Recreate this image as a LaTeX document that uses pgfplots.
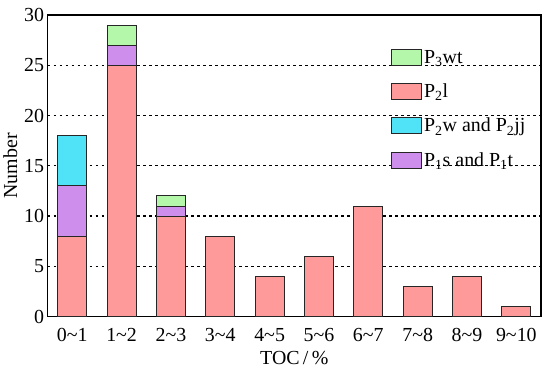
\documentclass[border=0pt]{standalone}
\usepackage{fontspec}
\setmainfont{Liberation Serif}
\usepackage{pgfplots}
\pgfplotsset{compat=1.18}
\definecolor{cgreen}{RGB}{180,246,170}
\definecolor{cpink}{RGB}{255,154,154}
\definecolor{ccyan}{RGB}{80,226,246}
\definecolor{cpurple}{RGB}{205,142,236}
\begin{document}
\begin{tikzpicture}
\begin{axis}[
  name=ax,
  scale only axis, width=494bp, height=302bp,
  ybar stacked, bar width=0.59,
  xmin=-0.5, xmax=9.5, ymin=0, ymax=30,
  xtick={0,...,9},
  xticklabels={0\textasciitilde1,1\textasciitilde2,2\textasciitilde3,3\textasciitilde4,4\textasciitilde5,5\textasciitilde6,6\textasciitilde7,7\textasciitilde8,8\textasciitilde9,9\textasciitilde10},
  ytick={0,5,...,30},
  ymajorgrids, grid style={black, dash pattern=on 2.5bp off 3.5bp, line width=1.2bp},
  major tick length=0pt,
  axis line style={line width=1.4bp},
  /pgf/number format/assume math mode=true,
  tick label style={font=\fontsize{20}{23}\selectfont},
  xticklabel style={yshift=-8bp},
  label style={font=\fontsize{20}{23}\selectfont},
  xlabel={TOC\,/\,\%}, ylabel={Number},
  xlabel style={yshift=-3bp},
  every axis plot/.append style={draw=black!85, line width=1bp},
  legend style={at={(0.696,0.89)}, anchor=north west, draw=none, fill=none,
    inner sep=0pt, font=\fontsize{20}{23}\selectfont, row sep=15bp,
    /tikz/every even column/.append style={column sep=3bp}},
  legend cell align=left,
  area legend,
  legend image code/.code={\draw[#1, line width=1bp] (0bp,-8bp) rectangle (30bp,8bp);},
]
\addplot[fill=cpink, forget plot] coordinates {(0,8) (1,25) (2,10) (3,8) (4,4) (5,6) (6,11) (7,3) (8,4) (9,1)};
\addplot[fill=cpurple, forget plot] coordinates {(0,5) (1,2) (2,1) (3,0) (4,0) (5,0) (6,0) (7,0) (8,0) (9,0)};
\addplot[fill=ccyan, forget plot] coordinates {(0,5) (1,0) (2,0) (3,0) (4,0) (5,0) (6,0) (7,0) (8,0) (9,0)};
\addplot[fill=cgreen, forget plot] coordinates {(0,0) (1,2) (2,1) (3,0) (4,0) (5,0) (6,0) (7,0) (8,0) (9,0)};
\addlegendimage{fill=cgreen, draw=black!85}
\addlegendentry{P\textsubscript{3}wt}
\addlegendimage{fill=cpink, draw=black!85}
\addlegendentry{P\textsubscript{2}l}
\addlegendimage{fill=ccyan, draw=black!85}
\addlegendentry{P\textsubscript{2}w and P\textsubscript{2}jj}
\addlegendimage{fill=cpurple, draw=black!85}
\addlegendentry{P\textsubscript{1}s and P\textsubscript{1}t}
\end{axis}
\path ([xshift=9bp,yshift=15bp]ax.north east);
\path ([xshift=9bp,yshift=-55bp]ax.south east);
\end{tikzpicture}
\end{document}
